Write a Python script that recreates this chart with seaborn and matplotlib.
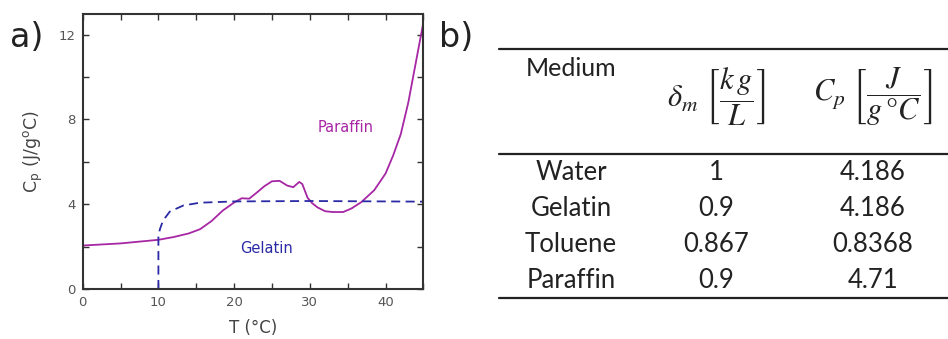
import numpy as np
import pandas as pd
import matplotlib
matplotlib.use("Agg")
import matplotlib.pyplot as plt
import seaborn as sns
from matplotlib.ticker import MultipleLocator

# ---- data (panel a) ----
T_paraffin = [0, 5, 10, 12, 14, 15.5, 17, 18.5, 20, 21, 22, 23, 24, 25, 26, 27,
              27.8, 28.6, 29.0, 29.7, 30.3, 31, 32, 33, 34.4, 35.5, 36.8, 38.5,
              40, 41, 42, 43, 44, 45]
Cp_paraffin = [2.05, 2.15, 2.32, 2.45, 2.62, 2.82, 3.2, 3.7, 4.08, 4.28, 4.26,
               4.55, 4.85, 5.08, 5.1, 4.88, 4.8, 5.05, 4.95, 4.3, 4.05, 3.85,
               3.67, 3.63, 3.63, 3.8, 4.1, 4.66, 5.45, 6.3, 7.3, 8.8, 10.7, 12.6]
T_gelatin = [10, 10, 10.2, 10.6, 11.5, 13.3, 15.5, 20, 30, 45]
Cp_gelatin = [0, 2.5, 2.82, 3.22, 3.65, 3.94, 4.07, 4.13, 4.15, 4.12]

# ---- data (panel b) ----
tbl_headers = ["Medium", r"$\delta_m\ \left[\dfrac{k\,g}{L}\right]$",
               r"$C_p\ \left[\dfrac{J}{g\,°C}\right]$"]
tbl_medium = ["Water", "Gelatin", "Toluene", "Paraffin"]
tbl_density = ["1", "0.9", "0.867", "0.9"]
tbl_cp = ["4.186", "4.186", "0.8368", "4.71"]

sns.set_theme(style="ticks")
plt.rcParams["font.family"] = ["DejaVu Sans"]
plt.rcParams["mathtext.fontset"] = "stix"

fig = plt.figure(figsize=(9.48, 3.39), dpi=100)
ax = fig.add_axes([0.0872, 0.1475, 0.3595, 0.8112])

par_col = "#a626a4"
gel_col = "#2a2aa6"
df_p = pd.DataFrame({"T": T_paraffin, "Cp": Cp_paraffin})
df_g = pd.DataFrame({"T": T_gelatin, "Cp": Cp_gelatin})
sns.lineplot(data=df_p, x="T", y="Cp", ax=ax, color=par_col, lw=1.3,
             sort=False, estimator=None)
sns.lineplot(data=df_g, x="T", y="Cp", ax=ax, color=gel_col, lw=1.3,
             sort=False, estimator=None, linestyle=(0, (5, 3)))

ax.set_xlim(0, 45)
ax.set_ylim(0, 12.97)
ax.xaxis.set_major_locator(MultipleLocator(10))
ax.xaxis.set_minor_locator(MultipleLocator(5))
ax.yaxis.set_major_locator(MultipleLocator(4))
ax.yaxis.set_minor_locator(MultipleLocator(2))
ax.tick_params(which="both", direction="in", top=True, right=True,
               length=4, width=1, color="#333333", labelsize=9.5,
               labelcolor="#555555", pad=5)
for s in ax.spines.values():
    s.set_visible(True)
    s.set_color("#333333")
    s.set_linewidth(1.5)
ax.set_xlabel("T (°C)", fontsize=12, color="#444444", labelpad=7)
ax.set_ylabel(r"C$_\mathregular{p}$ (J/g$^\mathregular{o}$C)", fontsize=12.5,
              color="#444444", labelpad=10)
ax.text(34.7, 7.6, "Paraffin", color=par_col, fontsize=10.5, ha="center", va="center")
ax.text(24.3, 1.9, "Gelatin", color=gel_col, fontsize=10.5, ha="center", va="center")

fig.text(0.011, 0.89, "a)", fontsize=24, color="#222222", va="center", ha="left")
fig.text(0.463, 0.89, "b)", fontsize=24, color="#222222", va="center", ha="left")

# ---- table panel ----
tax = fig.add_axes([0, 0, 1, 1])
tax.set_xlim(0, 948)
tax.set_ylim(339, 0)
tax.axis("off")
tfont = "Lato"
for yy in [49, 154, 297.5]:
    tax.plot([499, 948], [yy, yy], color="#222222", lw=1.6)
col_x = [571, 716, 873]
tax.text(col_x[0], 68, tbl_headers[0], fontsize=18, family=tfont, ha="center",
         va="center", color="#222222")
tax.text(col_x[1], 97, tbl_headers[1], fontsize=22, ha="center", va="center",
         color="#222222")
tax.text(col_x[2], 97, tbl_headers[2], fontsize=22, ha="center", va="center",
         color="#222222")
row_y = [172.5, 208, 244, 281]
for i in range(len(tbl_medium)):
    tax.text(col_x[0], row_y[i], tbl_medium[i], fontsize=18.5, family=tfont,
             ha="center", va="center", color="#222222")
    tax.text(col_x[1], row_y[i], tbl_density[i], fontsize=18.5, family=tfont,
             ha="center", va="center", color="#222222")
    tax.text(col_x[2], row_y[i], tbl_cp[i], fontsize=18.5, family=tfont,
             ha="center", va="center", color="#222222")

fig.savefig("out.png", dpi=100)
